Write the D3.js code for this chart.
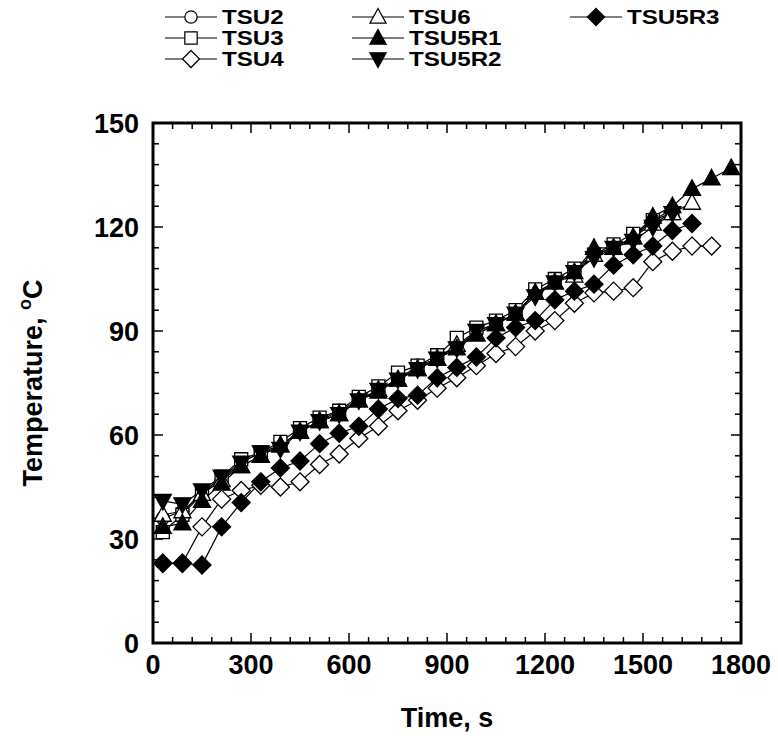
<!DOCTYPE html>
<html><head><meta charset="utf-8">
<script src="https://cdn.jsdelivr.net/npm/d3@7"></script>
<style>body{margin:0;background:#fff}svg{font-family:"Liberation Sans",Arial,sans-serif;font-weight:bold}</style>
</head><body><svg id="c" width="778" height="736"></svg>
<script>
const times = [30,90,150,210,270,330,390,450,510,570,630,690,750,810,870,930,990,1050,1110,1170,1230,1290,1350,1410,1470,1530,1590,1650,1710,1770];
const tsu2   = [36,38,43,47,52,55,57,61,64,67,70,73,76,80,82,86,90,92,95,101,104,107,112,114,117,122,125];
const tsu3   = [32,37,43,48,53,55,58,62,65,67,71,74,78,80,83,88,91,93,96,102,105,108,112,115,118,122,124];
const tsu4   = [23,23,33.5,41.5,44,45.5,45,46.5,51.5,54.5,59,62.5,67,70,73.5,76.5,80,83.5,85.5,90,93,98,101,101.5,102.5,110,113,114.5,114.5];
const tsu6   = [37,38,43,47,51,54,57,61,64,66,70,73,76,79,82,86,89,92,95,101,104,106,112,114,117,121,124,127];
const tsu5r1 = [33.5,34.5,41,46,51,54,57,61,64,66,70,72.5,76,79,82,85,89,92,95,101,104,107,114,114,117,123,126,131,134,137];
const tsu5r2 = [41,40,44,48,52,55,56,61,64,66,70,73,76,79,82,85,90,92,95,100,104,107,111,114,116,120,124];
const tsu5r3 = [23,23,22.5,33.5,40.5,46.5,50.5,52.5,57.5,60.5,62.5,67.5,70.5,71.5,76.5,79.5,82.5,88,91,93,99,101.5,103.5,109,112,114.5,119,121];
const xTicks = [0,300,600,900,1200,1500,1800];
const yTicks = [0,30,60,90,120,150];

const series = [
  {name:"TSU2", vals:tsu2, shape:"circle", fill:"#fff"},
  {name:"TSU3", vals:tsu3, shape:"square", fill:"#fff"},
  {name:"TSU4", vals:tsu4, shape:"diamond", fill:"#fff"},
  {name:"TSU6", vals:tsu6, shape:"up", fill:"#fff"},
  {name:"TSU5R1", vals:tsu5r1, shape:"up", fill:"#000"},
  {name:"TSU5R2", vals:tsu5r2, shape:"down", fill:"#000"},
  {name:"TSU5R3", vals:tsu5r3, shape:"diamond", fill:"#000"}
];

const svg = d3.select("#c");
const L=153, T=123, W=588, H=520;
const x = d3.scaleLinear().domain([0,1800]).range([L,L+W]);
const y = d3.scaleLinear().domain([0,150]).range([T+H,T]);

function markerPath(shape){
  if(shape==="circle") return "M6.5,0A6.5,6.5 0 1,1 -6.5,0A6.5,6.5 0 1,1 6.5,0Z";
  if(shape==="square") return "M-6.5,-6.5H6.5V6.5H-6.5Z";
  if(shape==="diamond") return "M0,-9L9,0L0,9L-9,0Z";
  if(shape==="up") return "M0,-9L8.5,6.5L-8.5,6.5Z";
  if(shape==="down") return "M0,9L8.5,-6.5L-8.5,-6.5Z";
}

// ticks (inward) on all sides
const g = svg.append("g").attr("stroke","#000").attr("stroke-width",1.5);
d3.range(0,1801,60).forEach(v=>{
  const len = v%300===0?10:6;
  g.append("line").attr("x1",x(v)).attr("x2",x(v)).attr("y1",T+H).attr("y2",T+H-len);
  g.append("line").attr("x1",x(v)).attr("x2",x(v)).attr("y1",T).attr("y2",T+len);
});
d3.range(0,151,6).forEach(v=>{
  const len = v%30===0?10:6;
  g.append("line").attr("y1",y(v)).attr("y2",y(v)).attr("x1",L).attr("x2",L+len);
  g.append("line").attr("y1",y(v)).attr("y2",y(v)).attr("x1",L+W).attr("x2",L+W-len);
});

const line = d3.line().x(d=>x(d[0])).y(d=>y(d[1]));
series.forEach(s=>{
  const pts = s.vals.map((v,i)=>[times[i],v]);
  svg.append("path").attr("d",line(pts)).attr("fill","none").attr("stroke","#000").attr("stroke-width",1.2);
});
series.forEach(s=>{
  const pts = s.vals.map((v,i)=>[times[i],v]);
  svg.append("g").selectAll("path").data(pts).join("path")
    .attr("d",markerPath(s.shape))
    .attr("transform",d=>`translate(${x(d[0])},${y(d[1])})`)
    .attr("fill",s.fill).attr("stroke","#000").attr("stroke-width",1.3);
});

svg.append("rect").attr("x",L).attr("y",T).attr("width",W).attr("height",H)
  .attr("fill","none").attr("stroke","#000").attr("stroke-width",3);

// tick labels
svg.append("g").selectAll("text").data(xTicks).join("text")
  .attr("x",d=>x(d)).attr("y",T+H+31).attr("text-anchor","middle")
  .attr("font-size",27).text(d=>d);
svg.append("g").selectAll("text").data(yTicks).join("text")
  .attr("x",L-14).attr("y",d=>y(d)+10).attr("text-anchor","end")
  .attr("font-size",27).text(d=>d);

svg.append("text").attr("x",x(900)).attr("y",727).attr("text-anchor","middle")
  .attr("font-size",27).text("Time, s");
const yt = svg.append("text").attr("transform",`translate(42,${y(75)}) rotate(-90)`)
  .attr("text-anchor","middle").attr("font-size",27);
yt.append("tspan").text("Temperature, ");
yt.append("tspan").attr("font-size",18).attr("dy",-11).text("o");
yt.append("tspan").attr("dy",11).text("C");

// legend
const legPos = [[165,17],[165,38],[165,59],[352,17],[352,38],[352,59],[570,17]];
series.forEach((s,i)=>{
  const [lx,ly] = legPos[i];
  const lg = svg.append("g").attr("transform",`translate(${lx},${ly})`);
  lg.append("line").attr("x1",0).attr("x2",52).attr("y1",0).attr("y2",0).attr("stroke","#000").attr("stroke-width",1.2);
  lg.append("path").attr("d",markerPath(s.shape)).attr("transform","translate(26,0) scale(0.95)")
    .attr("fill",s.fill).attr("stroke","#000").attr("stroke-width",1.3);
  lg.append("text").attr("transform","translate(57,7) scale(1.15,1)").attr("font-size",21).text(s.name);
});
</script></body></html>
